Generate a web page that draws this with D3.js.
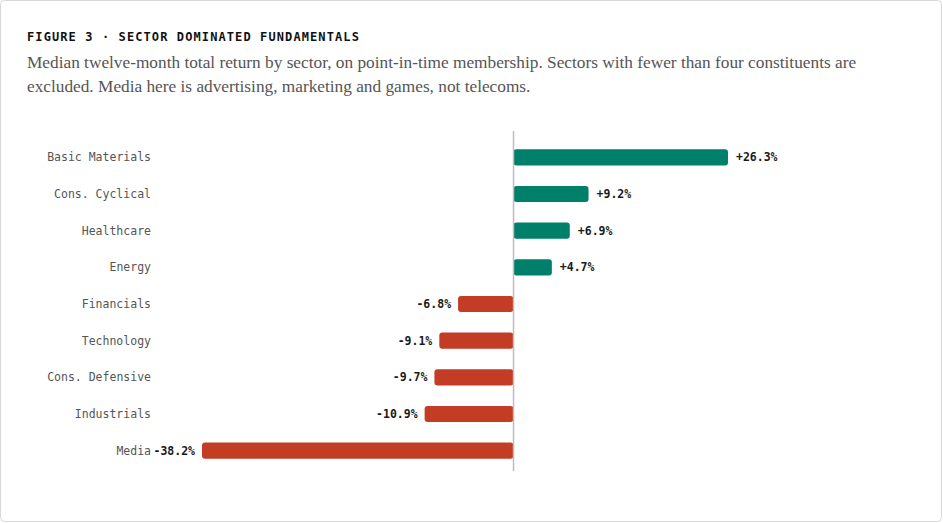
<!DOCTYPE html>
<html>
<head>
<meta charset="utf-8">
<script src="https://cdn.jsdelivr.net/npm/d3@7"></script>
<style>
  html, body { margin: 0; padding: 0; background: #fff; }
  #chart { width: 943px; height: 523px; }
</style>
</head>
<body>
<div id="chart"></div>
<script>
// Chart data
const sectors = ["Basic Materials", "Cons. Cyclical", "Healthcare", "Energy", "Financials",
  "Technology", "Cons. Defensive", "Industrials", "Media"];
const returns = [26.3, 9.2, 6.9, 4.7, -6.8, -9.1, -9.7, -10.9, -38.2];

const titleText = "FIGURE 3 · SECTOR DOMINATED FUNDAMENTALS";
const subtitleLines = [
  "Median twelve-month total return by sector, on point-in-time membership. Sectors with fewer than four constituents are",
  "excluded. Media here is advertising, marketing and games, not telecoms."
];

const width = 943;
const height = 523;
const mono = "'DejaVu Sans Mono', 'Liberation Mono', monospace";
const serif = "'Liberation Serif', 'DejaVu Serif', serif";

const data = sectors.map((s, i) => ({ sector: s, value: returns[i] }));

const svg = d3.select("#chart")
  .append("svg")
  .attr("width", width)
  .attr("height", height)
  .attr("viewBox", `0 0 ${width} ${height}`);

// Card border
svg.append("rect")
  .attr("x", 0.5).attr("y", 0.5)
  .attr("width", width - 2).attr("height", height - 2)
  .attr("rx", 4)
  .attr("fill", "#fff")
  .attr("stroke", "#d8d8d8");

// Title
svg.append("text")
  .attr("x", 27).attr("y", 41)
  .attr("font-family", mono)
  .attr("font-size", 12)
  .attr("font-weight", "bold")
  .attr("letter-spacing", 1.1)
  .attr("fill", "#111")
  .text(titleText);

// Subtitle
svg.append("g")
  .selectAll("text")
  .data(subtitleLines)
  .join("text")
  .attr("x", 27)
  .attr("y", (d, i) => 68 + i * 24)
  .attr("font-family", serif)
  .attr("font-size", 17.3)
  .attr("fill", "#555")
  .text((d) => d);

// Scales
const x = d3.scaleLinear()
  .domain(d3.extent(returns))
  .range([202, 728]);

const y = d3.scaleBand()
  .domain(sectors)
  .range([139, 469])
  .paddingInner(0.56)
  .paddingOuter(0.28);

// Bars
svg.append("g")
  .selectAll("rect")
  .data(data)
  .join("rect")
  .attr("x", (d) => x(Math.min(0, d.value)))
  .attr("y", (d) => y(d.sector))
  .attr("width", (d) => Math.abs(x(d.value) - x(0)))
  .attr("height", y.bandwidth())
  .attr("rx", 3)
  .attr("fill", (d) => (d.value >= 0 ? "#007f6a" : "#c33d24"));

// Zero line
svg.append("line")
  .attr("x1", x(0)).attr("x2", x(0))
  .attr("y1", 131).attr("y2", 471)
  .attr("stroke", "#bdbdbd")
  .attr("stroke-width", 1.5);

// Category labels
svg.append("g")
  .selectAll("text")
  .data(data)
  .join("text")
  .attr("x", 151)
  .attr("y", (d) => y(d.sector) + y.bandwidth() / 2)
  .attr("dy", "0.35em")
  .attr("text-anchor", "end")
  .attr("font-family", mono)
  .attr("font-size", 11.5)
  .attr("fill", "#555")
  .text((d) => d.sector);

// Value labels
const fmt = (v) => (v > 0 ? "+" : "") + v.toFixed(1) + "%";
svg.append("g")
  .selectAll("text")
  .data(data)
  .join("text")
  .attr("x", (d) => (d.value >= 0 ? x(d.value) + 8 : x(d.value) - 7))
  .attr("y", (d) => y(d.sector) + y.bandwidth() / 2)
  .attr("dy", "0.35em")
  .attr("text-anchor", (d) => (d.value >= 0 ? "start" : "end"))
  .attr("font-family", mono)
  .attr("font-size", 11.5)
  .attr("font-weight", "bold")
  .attr("fill", "#1a1a1a")
  .text((d) => fmt(d.value));
</script>
</body>
</html>
